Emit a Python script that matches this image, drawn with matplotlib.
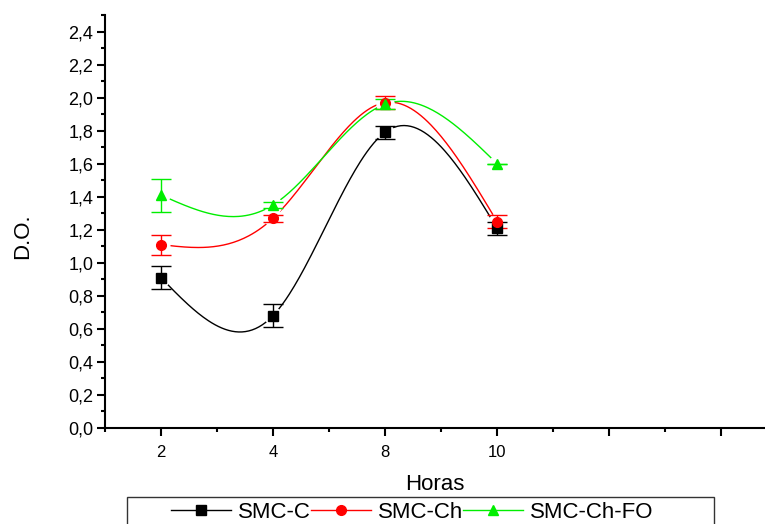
import numpy as np
import matplotlib
matplotlib.use("Agg")
import matplotlib.pyplot as plt
from matplotlib.patches import Rectangle
from matplotlib.ticker import MultipleLocator, FixedLocator

plt.rcParams['font.family'] = ['Liberation Sans', 'DejaVu Sans']

horas = ["2", "4", "8", "10"]
smc_c = [0.91, 0.68, 1.79, 1.21]
smc_c_err = [0.07, 0.07, 0.04, 0.04]
smc_ch = [1.11, 1.27, 1.97, 1.25]
smc_ch_err = [0.06, 0.02, 0.04, 0.04]
smc_fo = [1.41, 1.35, 1.96, 1.60]
smc_fo_err = [0.10, 0.02, 0.03, 0.0]


def natural_spline(x, y, n=200):
    """natural cubic spline through the points, for drawing the smooth line"""
    x = np.asarray(x, float)
    y = np.asarray(y, float)
    k = len(x)
    h = np.diff(x)
    a = np.zeros((k, k))
    b = np.zeros(k)
    a[0, 0] = a[-1, -1] = 1
    for i in range(1, k - 1):
        a[i, i - 1] = h[i - 1]
        a[i, i] = 2 * (h[i - 1] + h[i])
        a[i, i + 1] = h[i]
        b[i] = 6 * ((y[i + 1] - y[i]) / h[i] - (y[i] - y[i - 1]) / h[i - 1])
    m = np.linalg.solve(a, b)
    xs = np.linspace(x[0], x[-1], n)
    j = np.clip(np.searchsorted(x, xs) - 1, 0, k - 2)
    t0 = x[j + 1] - xs
    t1 = xs - x[j]
    hj = h[j]
    ys = (m[j] * t0 ** 3 + m[j + 1] * t1 ** 3) / (6 * hj) \
        + (y[j] / hj - m[j] * hj / 6) * t0 \
        + (y[j + 1] / hj - m[j + 1] * hj / 6) * t1
    return xs, ys


fig = plt.figure(figsize=(7.65, 5.24), dpi=100)
ax = fig.add_axes([105 / 765, 96 / 524, 660 / 765, 413 / 524])

pos = np.arange(1, len(horas) + 1)
series = [
    (smc_c, smc_c_err, "black", "s", "SMC-C"),
    (smc_ch, smc_ch_err, "red", "o", "SMC-Ch"),
    (smc_fo, smc_fo_err, "#00ee00", "^", "SMC-Ch-FO"),
]
handles = []
for vals, err, col, mk, name in series:
    xs, ys = natural_spline(pos, vals)
    ax.plot(xs, ys, color=col, lw=1, zorder=1)
    # white gap round the symbols, as the original program draws it
    ax.plot(pos, vals, ls="none", marker="o", color="white", ms=12, zorder=2)
    ax.errorbar(pos, vals, yerr=err, fmt="none", ecolor=col, elinewidth=1,
                capsize=7, capthick=1, zorder=3)
    ax.plot(pos, vals, ls="none", marker=mk, color=col, ms=7, zorder=4)
    h, = ax.plot([], [], color=col, lw=1, marker=mk, ms=7, label=name)
    handles.append(h)

ax.set_xlim(0.5, 0.5 + 660 / 112)
ax.set_ylim(0, 2.5)
ax.xaxis.set_major_locator(FixedLocator([1, 2, 3, 4, 5, 6]))
ax.xaxis.set_minor_locator(FixedLocator([0.5, 1.5, 2.5, 3.5, 4.5, 5.5]))
ax.set_xticklabels(horas + ["", ""])
ax.yaxis.set_minor_locator(MultipleLocator(0.1))
yt = np.arange(0, 2.41, 0.2)
ax.set_yticks(yt)
ax.set_yticklabels([("%.1f" % v).replace(".", ",") for v in yt])

for s in ["top", "right"]:
    ax.spines[s].set_visible(False)
for s in ["left", "bottom"]:
    ax.spines[s].set_linewidth(1.5)
ax.tick_params(which="major", length=5.5, width=1.5)
ax.tick_params(which="minor", length=3, width=1.5)
ax.tick_params(axis="y", labelsize=13, pad=3)
ax.tick_params(axis="x", labelsize=12, pad=7)

ax.set_xlabel("Horas", fontsize=16, labelpad=10)
fig.text(23 / 765, 1 - 236 / 524, "D.O.", rotation=90, fontsize=16,
         ha="center", va="center")

leg = fig.legend(handles=handles, loc="center left",
                 bbox_to_anchor=(171 / 765, 1 - 512 / 524), ncol=3,
                 fontsize=16, frameon=False, handlelength=2.7,
                 handletextpad=0.32, columnspacing=0.0, borderpad=0,
                 borderaxespad=0)
fig.add_artist(Rectangle((127 / 765, -0.05), (714 - 127) / 765,
                         0.05 + (524 - 497) / 524, transform=fig.transFigure,
                         fill=False, edgecolor="#333333", lw=1))

fig.savefig("out.png", dpi=100)
